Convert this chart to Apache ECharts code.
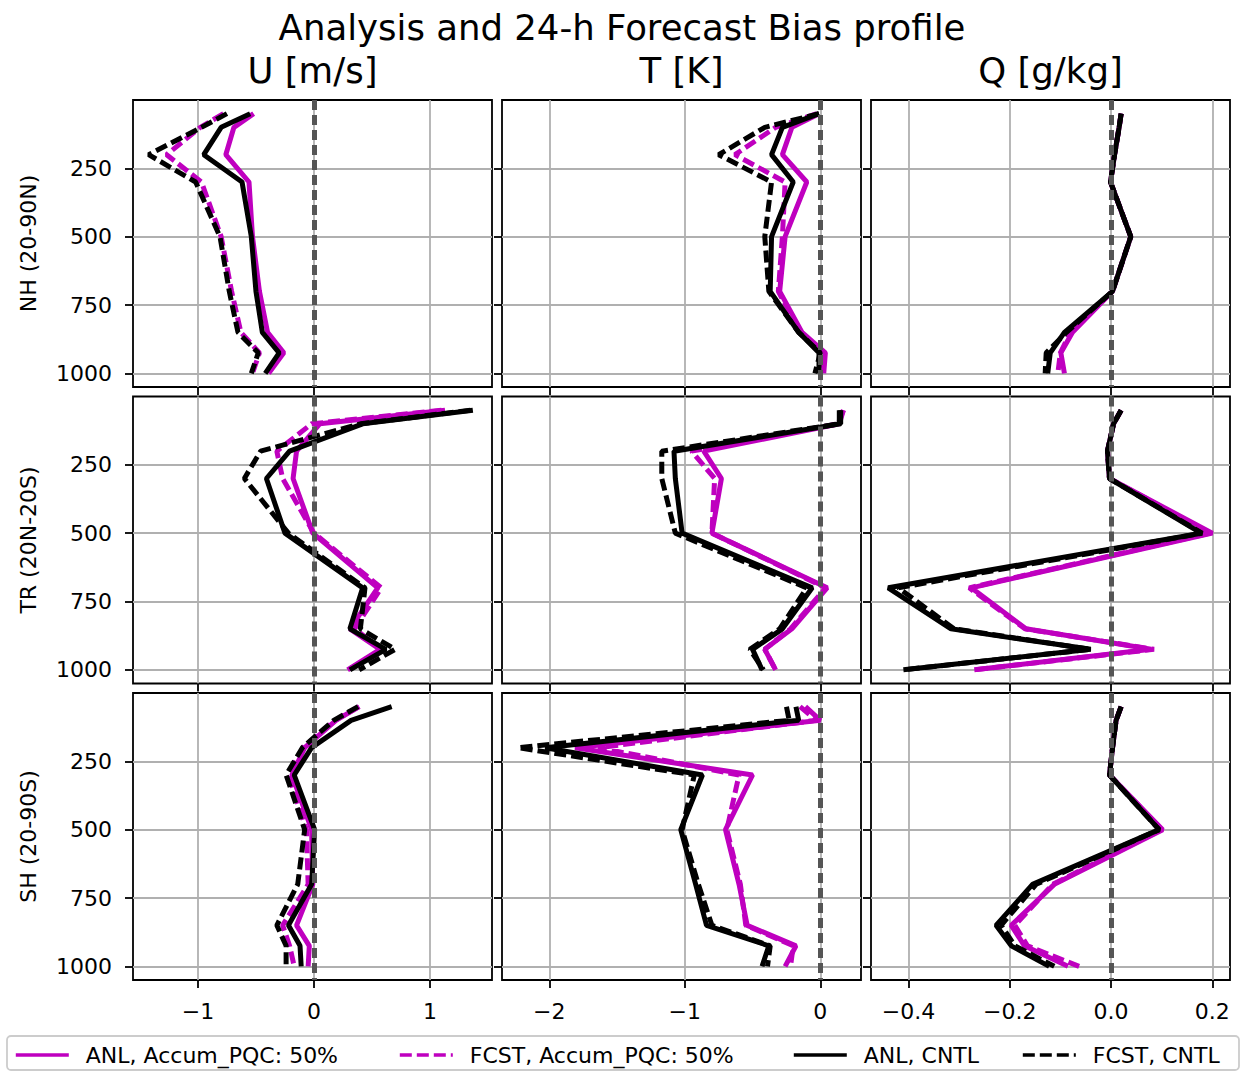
<!DOCTYPE html>
<html>
<head>
<meta charset="utf-8">
<title>Analysis and 24-h Forecast Bias profile</title>
<script src="https://cdn.jsdelivr.net/npm/echarts@6.0.0/dist/echarts.min.js"></script>
<style>
  html, body { margin: 0; padding: 0; background: #fff; }
  #chart { width: 1241px; height: 1072px; }
</style>
</head>
<body>
<div id="chart"></div>
<script>
// pressure levels (hPa)
const levels = [50, 100, 200, 300, 500, 700, 850, 925, 1000];

const seriesNames = ['ANL, Accum_PQC: 50%', 'FCST, Accum_PQC: 50%', 'ANL, CNTL', 'FCST, CNTL'];
const regionLabels = ['NH (20-90N)', 'TR (20N-20S)', 'SH (20-90S)'];
const varLabels = ['U [m/s]', 'T [K]', 'Q [g/kg]'];

const pTicks = [250, 500, 750, 1000];
const uTicks = [-1, 0, 1];
const tTicks = [-2, -1, 0];
const qTicks = [-0.4, -0.2, 0, 0.2];

// NH U
const nhU_anlPqc  = [-0.52, -0.69, -0.76, -0.56, -0.53, -0.47, -0.40, -0.26, -0.39];
const nhU_fcstPqc = [-0.78, -0.98, -1.27, -0.97, -0.80, -0.71, -0.63, -0.47, -0.53];
const nhU_anlCntl = [-0.55, -0.80, -0.95, -0.62, -0.54, -0.50, -0.445, -0.30, -0.42];
const nhU_fcstCntl = [-0.75, -0.97, -1.425, -1.02, -0.81, -0.73, -0.655, -0.48, -0.54];
// NH T
const nhT_anlPqc  = [-0.01, -0.21, -0.28, -0.10, -0.26, -0.30, -0.135, 0.037, 0.025];
const nhT_fcstPqc = [-0.025, -0.33, -0.63, -0.26, -0.28, -0.31, -0.15, 0.025, 0.0];
const nhT_anlCntl = [-0.01, -0.28, -0.36, -0.20, -0.36, -0.37, -0.16, -0.01, -0.01];
const nhT_fcstCntl = [-0.01, -0.41, -0.75, -0.36, -0.41, -0.38, -0.16, 0.0, -0.04];
// NH Q
const nhQ_anlPqc  = [0.02, 0.016, 0.007, -0.001, 0.039, 0.003, -0.076, -0.099, -0.092];
const nhQ_fcstPqc = [0.02, 0.016, 0.007, -0.001, 0.039, 0.003, -0.08, -0.10, -0.105];
const nhQ_anlCntl = [0.02, 0.016, 0.007, -0.001, 0.039, 0.003, -0.092, -0.12, -0.125];
const nhQ_fcstCntl = [0.02, 0.016, 0.007, -0.001, 0.039, 0.003, -0.088, -0.128, -0.13];

// TR U
const trU_anlPqc  = [1.13, 0.05, -0.15, -0.18, -0.01, 0.55, 0.31, 0.57, 0.29];
const trU_fcstPqc = [1.10, -0.02, -0.32, -0.27, 0.0, 0.58, 0.35, 0.58, 0.30];
const trU_anlCntl = [1.37, 0.42, -0.21, -0.41, -0.25, 0.42, 0.31, 0.62, 0.31];
const trU_fcstCntl = [1.35, 0.40, -0.46, -0.60, -0.22, 0.44, 0.40, 0.70, 0.39];
// TR T
const trT_anlPqc  = [0.17, 0.14, -0.86, -0.73, -0.80, 0.05, -0.21, -0.41, -0.33];
const trT_fcstPqc = [0.17, 0.13, -0.95, -0.78, -0.80, 0.04, -0.22, -0.41, -0.33];
const trT_anlCntl = [0.15, 0.15, -1.08, -1.07, -1.02, -0.06, -0.28, -0.50, -0.43];
const trT_fcstCntl = [0.14, 0.14, -1.17, -1.17, -1.07, -0.10, -0.30, -0.52, -0.42];
// TR Q
const trQ_anlPqc  = [0.02, 0.005, -0.007, -0.003, 0.20, -0.276, -0.168, 0.079, -0.27];
const trQ_fcstPqc = [0.02, 0.005, -0.007, -0.003, 0.195, -0.28, -0.17, 0.085, -0.27];
const trQ_anlCntl = [0.02, 0.005, -0.007, -0.003, 0.178, -0.44, -0.316, -0.04, -0.41];
const trQ_fcstCntl = [0.02, 0.005, -0.007, -0.003, 0.18, -0.42, -0.31, -0.04, -0.41];

// SH U
const shU_anlPqc  = [0.39, 0.19, -0.08, -0.19, -0.02, -0.01, -0.15, -0.04, -0.05];
const shU_fcstPqc = [0.39, 0.18, -0.095, -0.22, -0.065, -0.05, -0.27, -0.21, -0.17];
const shU_anlCntl = [0.67, 0.32, -0.02, -0.17, 0.006, -0.02, -0.22, -0.12, -0.11];
const shU_fcstCntl = [0.38, 0.17, -0.10, -0.24, -0.08, -0.14, -0.32, -0.24, -0.24];
// SH T
const shT_anlPqc  = [-0.11, 0.0, -1.81, -0.50, -0.70, -0.60, -0.54, -0.18, -0.26];
const shT_fcstPqc = [-0.15, -0.03, -1.64, -0.60, -0.69, -0.59, -0.55, -0.20, -0.22];
const shT_anlCntl = [-0.18, -0.16, -2.03, -0.87, -1.03, -0.92, -0.84, -0.38, -0.43];
const shT_fcstCntl = [-0.25, -0.23, -2.23, -0.93, -1.02, -0.90, -0.80, -0.37, -0.39];
// SH Q
const shQ_anlPqc  = [0.02, 0.01, 0.003, -0.003, 0.102, -0.112, -0.197, -0.171, -0.085];
const shQ_fcstPqc = [0.02, 0.01, 0.003, -0.003, 0.10, -0.115, -0.19, -0.165, -0.063];
const shQ_anlCntl = [0.02, 0.01, 0.003, -0.003, 0.095, -0.155, -0.227, -0.197, -0.122];
const shQ_fcstCntl = [0.02, 0.01, 0.003, -0.003, 0.095, -0.148, -0.217, -0.19, -0.112];

// panels[row][col] -> 4 profiles in legend order
const panels = [
  [[nhU_anlPqc, nhU_fcstPqc, nhU_anlCntl, nhU_fcstCntl],
   [nhT_anlPqc, nhT_fcstPqc, nhT_anlCntl, nhT_fcstCntl],
   [nhQ_anlPqc, nhQ_fcstPqc, nhQ_anlCntl, nhQ_fcstCntl]],
  [[trU_anlPqc, trU_fcstPqc, trU_anlCntl, trU_fcstCntl],
   [trT_anlPqc, trT_fcstPqc, trT_anlCntl, trT_fcstCntl],
   [trQ_anlPqc, trQ_fcstPqc, trQ_anlCntl, trQ_fcstCntl]],
  [[shU_anlPqc, shU_fcstPqc, shU_anlCntl, shU_fcstCntl],
   [shT_anlPqc, shT_fcstPqc, shT_anlCntl, shT_fcstCntl],
   [shQ_anlPqc, shQ_fcstPqc, shQ_anlCntl, shQ_fcstCntl]]
];

// layout
const FONT = '"DejaVu Sans", sans-serif';
const colLeft = [133, 502, 871];
const rowTop = [100, 396.5, 693];
const panelW = 359;
const panelH = 287;
const xRanges = [[-1.56, 1.535], [-2.349, 0.300], [-0.474, 0.235]];
const xTicks = [uTicks, tTicks, qTicks];
const LW = 5;
const DASH = [12, 5];
const lineStyles = [
  { color: '#bf00bf', type: 'solid' },
  { color: '#bf00bf', type: DASH },
  { color: '#000000', type: 'solid' },
  { color: '#000000', type: DASH }
];

function minus(s) { return String(s).replace('-', '\u2212'); }
function fmtX(col) {
  return function (v) {
    if (col === 2) return minus((Math.round(v * 10) / 10).toFixed(1));
    return minus(Math.round(v));
  };
}

var grids = [], xAxes = [], yAxes = [], series = [];

for (var r = 0; r < 3; r++) {
  for (var c = 0; c < 3; c++) {
    var idx = r * 3 + c;
    grids.push({
      left: colLeft[c], top: rowTop[r], width: panelW, height: panelH,
      show: true, borderColor: '#000', borderWidth: 1.8, backgroundColor: '#fff'
    });
    xAxes.push({
      type: 'value', gridIndex: idx, position: 'bottom',
      min: xRanges[c][0], max: xRanges[c][1],
      axisLine: { show: false, onZero: false },
      axisTick: { show: true, inside: false, length: 8, customValues: xTicks[c],
        lineStyle: { color: '#000', width: 1.8 } },
      axisLabel: { show: r === 2, customValues: xTicks[c], margin: 20, formatter: fmtX(c),
        color: '#000', fontSize: 22, fontFamily: FONT },
      splitLine: { show: true, lineStyle: { color: '#b0b0b0', width: 1.8 } }
    });
    yAxes.push({
      type: 'value', gridIndex: idx, position: 'left', inverse: true,
      min: 0, max: 1050, interval: 250,
      axisLine: { show: false, onZero: false },
      axisTick: { show: true, inside: false, length: 8, customValues: pTicks,
        lineStyle: { color: '#000', width: 1.8 } },
      axisLabel: { show: c === 0, customValues: pTicks, margin: 21,
        formatter: function (v) { return String(v); },
        color: '#000', fontSize: 22, fontFamily: FONT },
      splitLine: { show: true, lineStyle: { color: '#b0b0b0', width: 1.8 } }
    });
    panels[r][c].forEach(function (vals, k) {
      series.push({
        name: seriesNames[k], type: 'line', xAxisIndex: idx, yAxisIndex: idx,
        data: levels.map(function (p, i) { return [vals[i], p]; }),
        showSymbol: false, symbol: 'none', animation: false,
        lineStyle: { color: lineStyles[k].color, type: lineStyles[k].type, width: LW },
        itemStyle: { color: lineStyles[k].color },
        emphasis: { disabled: true },
        z: 2 + k * 0.01
      });
    });
    // zero reference line
    series.push({
      name: 'zero', type: 'line', xAxisIndex: idx, yAxisIndex: idx, data: [],
      z: 3, animation: false,
      markLine: {
        silent: true, symbol: ['none', 'none'], animation: false,
        label: { show: false },
        lineStyle: { color: '#555555', type: [10, 5], width: LW },
        data: [{ xAxis: 0 }]
      }
    });
  }
}

// text: title, column titles, row labels
var texts = [{
  type: 'text', x: 622, y: 27,
  style: { text: 'Analysis and 24-h Forecast Bias profile', fontSize: 35.5, fontFamily: FONT,
    fill: '#000', textAlign: 'center', textVerticalAlign: 'middle' }
}];
varLabels.forEach(function (t, c) {
  texts.push({
    type: 'text', x: colLeft[c] + panelW / 2, y: 70,
    style: { text: t, fontSize: 35.5, fontFamily: FONT, fill: '#000',
      textAlign: 'center', textVerticalAlign: 'middle' }
  });
});
regionLabels.forEach(function (t, r) {
  texts.push({
    type: 'text', x: 28, y: rowTop[r] + panelH / 2, rotation: Math.PI / 2,
    style: { text: t, fontSize: 22, fontFamily: FONT, fill: '#000',
      textAlign: 'center', textVerticalAlign: 'middle' }
  });
});
// legend frame
texts.push({
  type: 'rect', z: 1,
  shape: { x: 7, y: 1036, width: 1232, height: 34, r: 4 },
  style: { fill: '#fff', stroke: '#cccccc', lineWidth: 1.8 }
});

const legendLefts = [14, 398, 792, 1021];
var legends = seriesNames.map(function (name, k) {
  return {
    data: [name], left: legendLefts[k], top: 1044, padding: 0,
    itemWidth: 53, itemHeight: 14, selectedMode: false,
    itemStyle: { opacity: 0 },
    lineStyle: { width: 3.6 },
    textStyle: { color: '#000', fontSize: 22, fontFamily: FONT, padding: [0, 0, 0, 12] }
  };
});

var chart = echarts.init(document.getElementById('chart'), null, { renderer: 'svg' });
chart.setOption({
  backgroundColor: '#fff',
  animation: false,
  grid: grids,
  xAxis: xAxes,
  yAxis: yAxes,
  series: series,
  legend: legends,
  graphic: texts
});
</script>
</body>
</html>
